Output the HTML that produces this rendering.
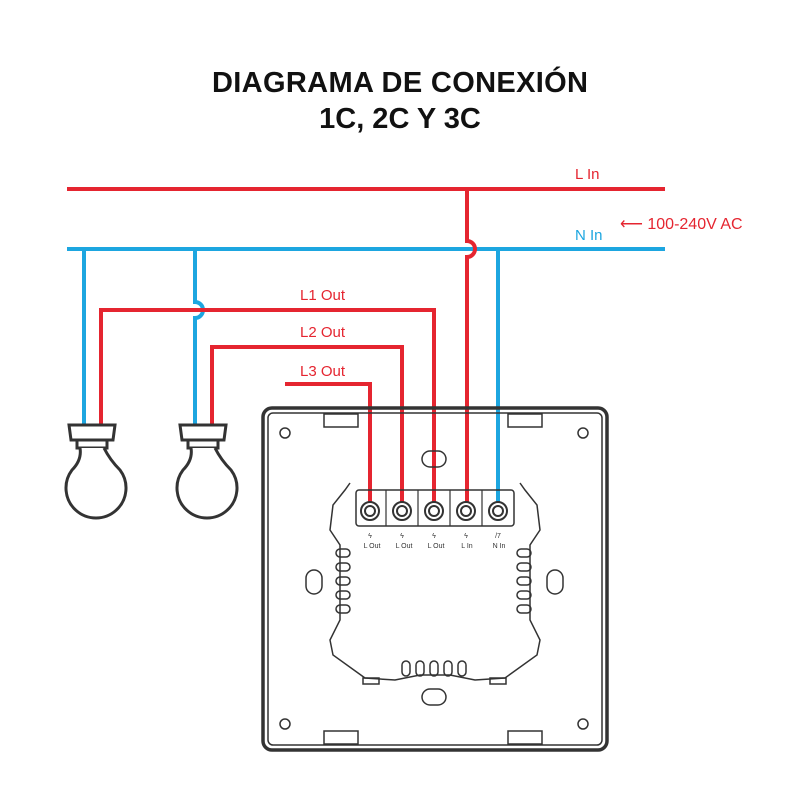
<!DOCTYPE html>
<html><head><meta charset="utf-8"><style>
html,body{margin:0;padding:0;background:#fff}
svg{display:block}
text{font-family:"Liberation Sans",sans-serif}
</style></head><body>
<svg width="800" height="800" viewBox="0 0 800 800" xmlns="http://www.w3.org/2000/svg">
<text x="400" y="92" text-anchor="middle" font-size="29" font-weight="bold" fill="#111" textLength="376">DIAGRAMA DE CONEXIÓN</text>
<text x="400" y="128" text-anchor="middle" font-size="29" font-weight="bold" fill="#111">1C, 2C Y 3C</text>

<g fill="none" stroke-width="4">
<line x1="67" y1="189" x2="665" y2="189" stroke="#e52530"/>
<line x1="67" y1="249" x2="665" y2="249" stroke="#1da6e0"/>
<path d="M467 189 V241 A8 8 0 0 1 467 257 V505" stroke="#e52530"/>
<path d="M498 249 V505" stroke="#1da6e0"/>
<path d="M84 249 V440" stroke="#1da6e0"/>
<path d="M195 249 V302 A8 8 0 0 1 195 318 V440" stroke="#1da6e0"/>
<path d="M101 440 V310 H434 V505" stroke="#e52530"/>
<path d="M212 440 V347 H402 V505" stroke="#e52530"/>
<path d="M285 384 H370 V505" stroke="#e52530"/>
</g>
<g font-size="15" fill="#e52530">
<text x="300" y="300">L1 Out</text>
<text x="300" y="337">L2 Out</text>
<text x="300" y="376">L3 Out</text>
<text x="575" y="179">L In</text>
<text x="620" y="229" font-size="16">⟵ 100-240V AC</text>
</g>
<text x="575" y="240" font-size="15" fill="#1da6e0">N In</text>

<g fill="#fff" stroke="#333" stroke-width="3">
<path d="M69 425 H115 L113 440 H71 Z"/><path d="M77 440 H107 V448 H77 Z"/>
<path d="M80 448 Q82 460 72 470 A30 30 0 1 0 120 470 Q110 460 104 448"/>
<path d="M180 425 H226 L224 440 H182 Z"/><path d="M188 440 H218 V448 H188 Z"/>
<path d="M191 448 Q193 460 183 470 A30 30 0 1 0 231 470 Q221 460 215 448"/>
</g>

<g fill="none" stroke="#333" stroke-width="1.5">
<rect x="263" y="408" width="344" height="342" rx="9" stroke-width="3.5"/>
<rect x="268" y="413" width="334" height="332" rx="5"/>
<circle cx="285" cy="433" r="5"/><circle cx="583" cy="433" r="5"/>
<circle cx="285" cy="724" r="5"/><circle cx="583" cy="724" r="5"/>
<rect x="324" y="414" width="34" height="13"/><rect x="508" y="414" width="34" height="13"/>
<rect x="324" y="731" width="34" height="13"/><rect x="508" y="731" width="34" height="13"/>
<rect x="422" y="451" width="24" height="16" rx="8"/>
<rect x="422" y="689" width="24" height="16" rx="8"/>
<rect x="306" y="570" width="16" height="24" rx="8"/>
<rect x="547" y="570" width="16" height="24" rx="8"/>
<path d="M350 483 L345 490 L333 505 L330 530 L340 545 L340 620 L330 640 L333 655 L365 678 L395 680 L420 675 L450 675 L475 680 L505 678 L537 655 L540 640 L530 620 L530 545 L540 530 L537 505 L525 490 L520 483"/>
<rect x="356" y="490" width="158" height="36" rx="3"/>
<g stroke-width="1.2">
<line x1="386" y1="490" x2="386" y2="526"/><line x1="418" y1="490" x2="418" y2="526"/><line x1="450" y1="490" x2="450" y2="526"/><line x1="482" y1="490" x2="482" y2="526"/>
</g>
<rect x="336" y="549" width="14" height="8" rx="4"/><rect x="336" y="563" width="14" height="8" rx="4"/><rect x="336" y="577" width="14" height="8" rx="4"/><rect x="336" y="591" width="14" height="8" rx="4"/><rect x="336" y="605" width="14" height="8" rx="4"/>
<rect x="517" y="549" width="14" height="8" rx="4"/><rect x="517" y="563" width="14" height="8" rx="4"/><rect x="517" y="577" width="14" height="8" rx="4"/><rect x="517" y="591" width="14" height="8" rx="4"/><rect x="517" y="605" width="14" height="8" rx="4"/>
<rect x="402" y="661" width="8" height="15" rx="4"/><rect x="416" y="661" width="8" height="15" rx="4"/><rect x="430" y="661" width="8" height="15" rx="4"/><rect x="444" y="661" width="8" height="15" rx="4"/><rect x="458" y="661" width="8" height="15" rx="4"/>
<rect x="363" y="678" width="16" height="6"/><rect x="490" y="678" width="16" height="6"/>
</g>
<g fill="#fff" stroke="#333" stroke-width="2">
<circle cx="370" cy="511" r="9"/><circle cx="402" cy="511" r="9"/><circle cx="434" cy="511" r="9"/><circle cx="466" cy="511" r="9"/><circle cx="498" cy="511" r="9"/>
<circle cx="370" cy="511" r="5"/><circle cx="402" cy="511" r="5"/><circle cx="434" cy="511" r="5"/><circle cx="466" cy="511" r="5"/><circle cx="498" cy="511" r="5"/>
</g>
<g font-size="7" fill="#333" text-anchor="middle">
<text x="370" y="538">ϟ</text><text x="402" y="538">ϟ</text><text x="434" y="538">ϟ</text><text x="466" y="538">ϟ</text><text x="498" y="538">/7</text>
<text x="372" y="548">L Out</text><text x="404" y="548">L Out</text><text x="436" y="548">L Out</text><text x="467" y="548">L In</text><text x="499" y="548">N In</text>
</g>
</svg>
</body></html>
